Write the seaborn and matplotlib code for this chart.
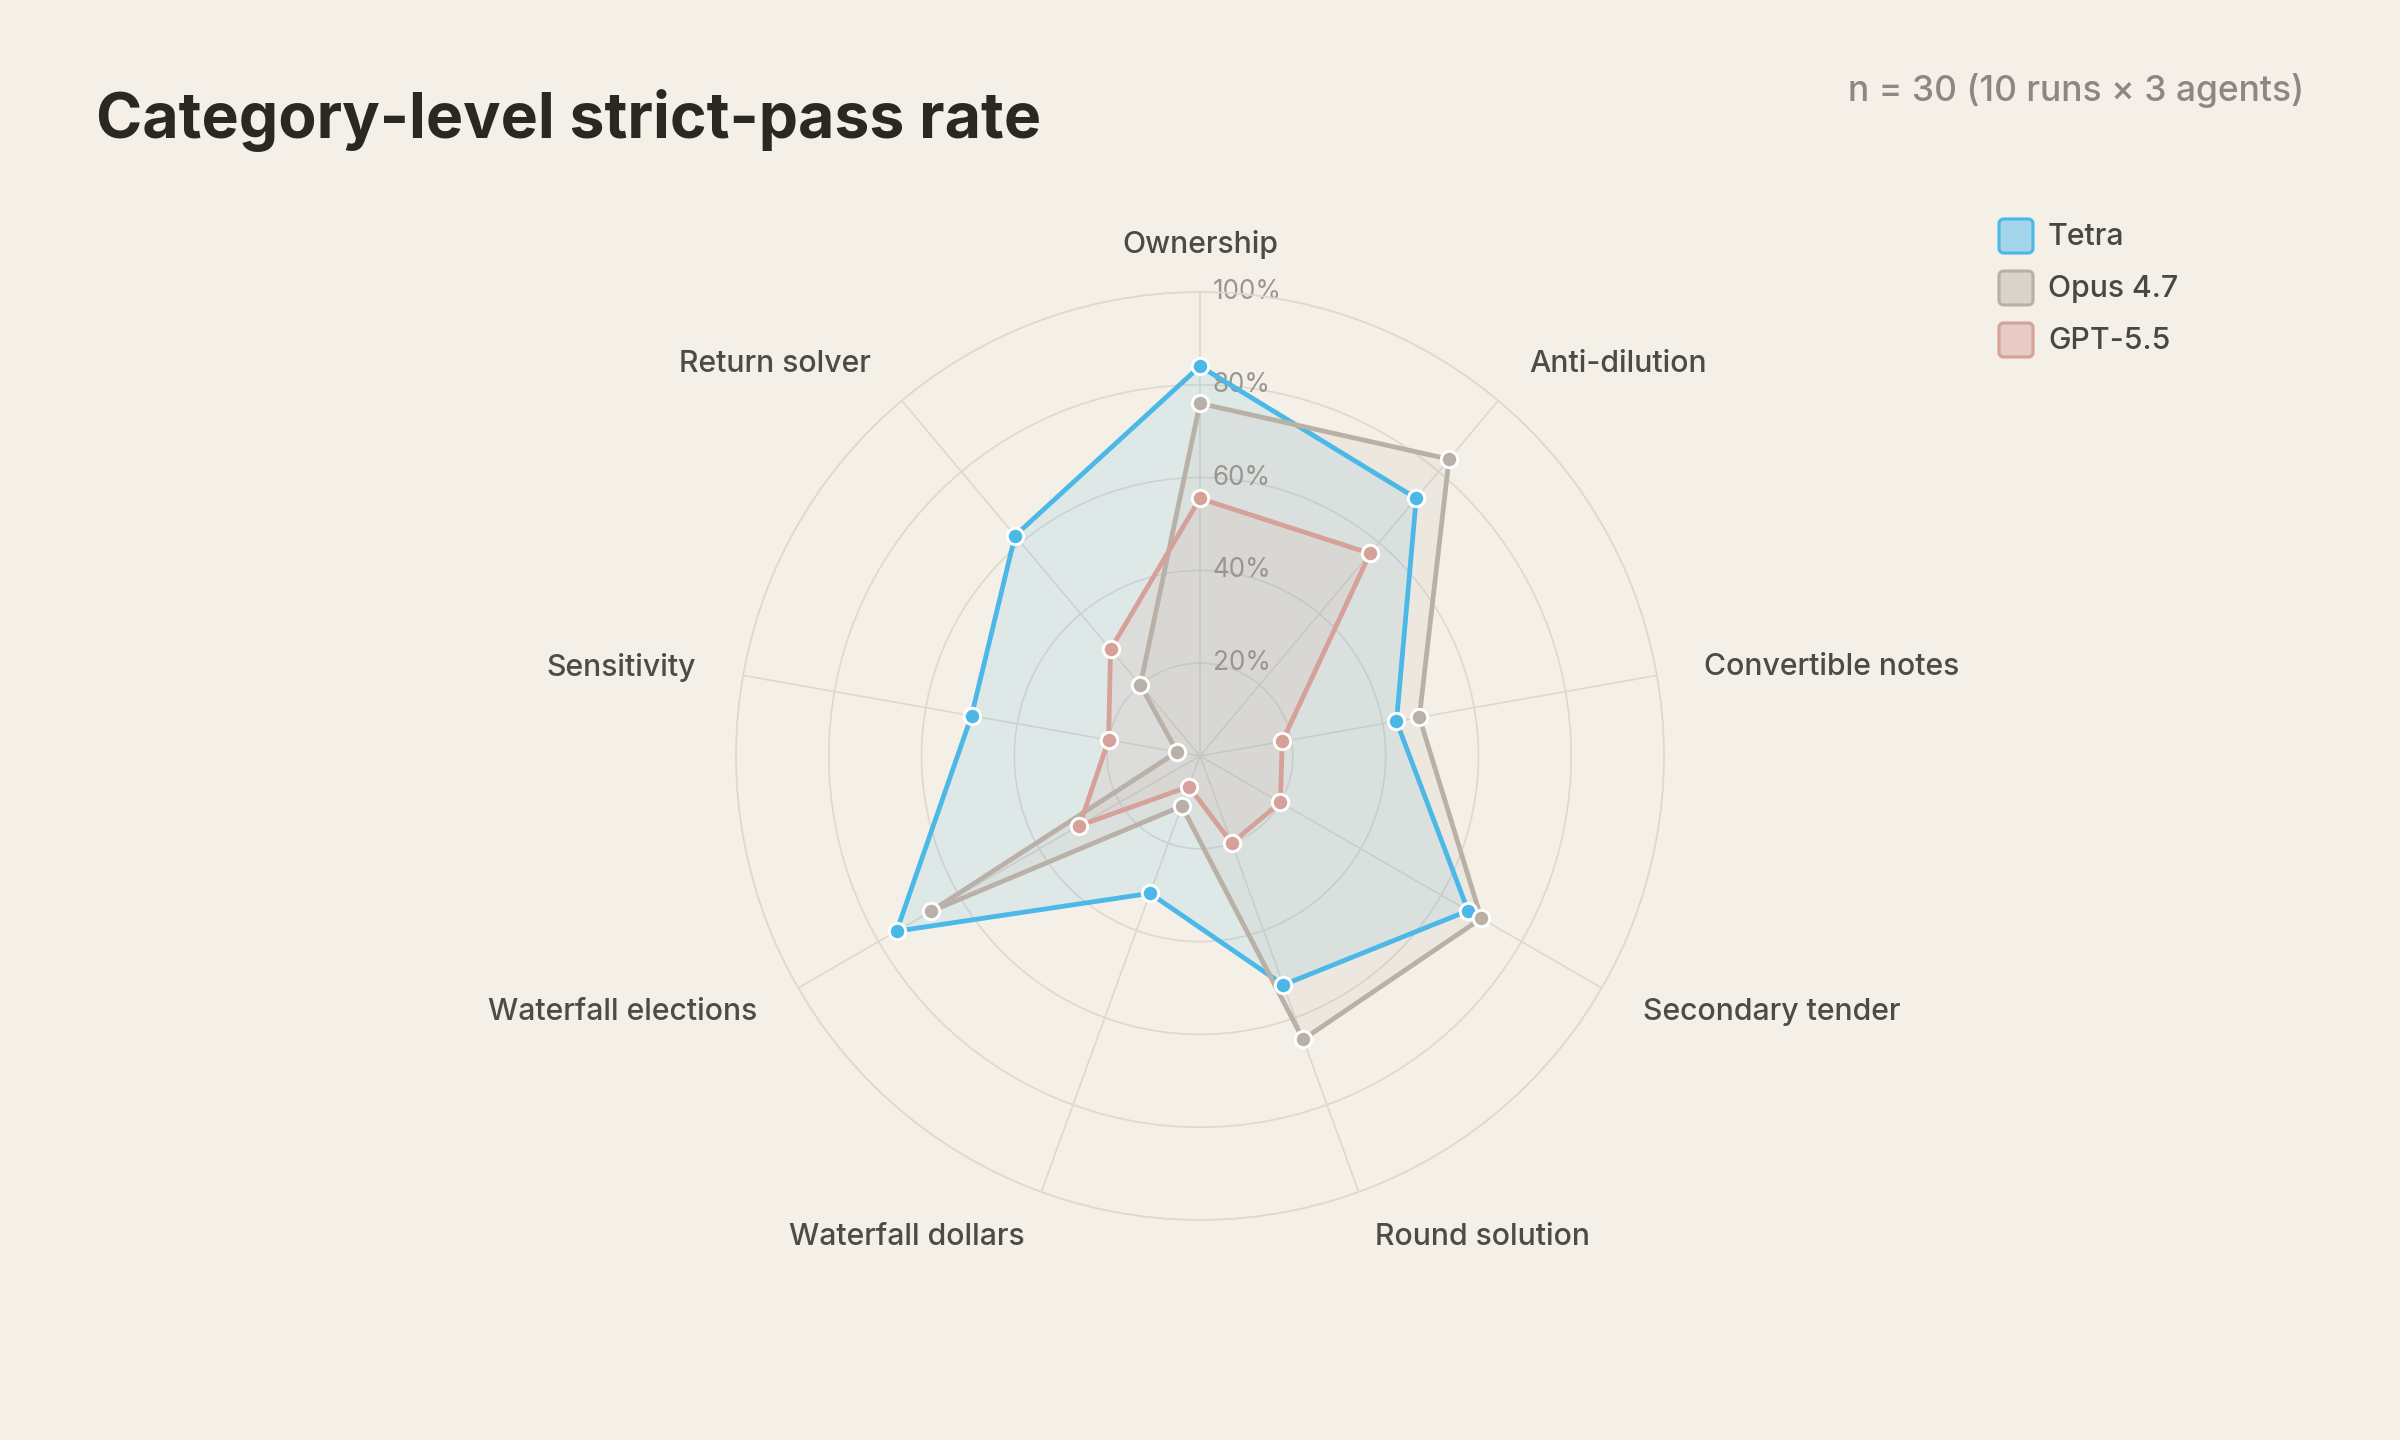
import numpy as np
import pandas as pd
import matplotlib
matplotlib.use("Agg")
import matplotlib.pyplot as plt
import matplotlib.patches as mpatches
from matplotlib.transforms import offset_copy, IdentityTransform
import seaborn as sns

# ---------------- data ----------------
categories = ["Ownership", "Anti-dilution", "Convertible notes", "Secondary tender",
              "Round solution", "Waterfall dollars", "Waterfall elections",
              "Sensitivity", "Return solver"]
tetra = [84, 72.5, 43, 66.7, 52.5, 31.5, 75.5, 50, 62]
opus = [76, 83.5, 48, 70, 65, 11.5, 67, 5, 20]
gpt = [55.5, 57, 18, 20, 20, 7, 30, 20, 30]
series_names = ["Tetra", "Opus 4.7", "GPT-5.5"]
ring_ticks = [20, 40, 60, 80, 100]
ring_labels = ["20%", "40%", "60%", "80%", "100%"]
title = "Category-level strict-pass rate"
subtitle = "n = 30 (10 runs × 3 agents)"

# ---------------- style ----------------
BG = "#F4F0E8"
GRID = "#DDD8D0"
line_colors = {"Tetra": "#4BB8E7", "Opus 4.7": "#B9B1A7", "GPT-5.5": "#D5A199"}
fill_alpha = {"Tetra": 0.13, "Opus 4.7": 0.13, "GPT-5.5": 0.14}
legend_fill = {"Tetra": "#A5D5EA", "Opus 4.7": "#D9D3CA", "GPT-5.5": "#E8CBC5"}

sns.set_theme(style="white")
plt.rcParams["font.family"] = ["Inter", "DejaVu Sans"]

n = len(categories)
theta = np.arange(n) * 2 * np.pi / n

rows = []
for name, vals in zip(series_names, [tetra, opus, gpt]):
    for i, (c, v) in enumerate(zip(categories, vals)):
        rows.append(dict(series=name, category=c, theta=theta[i], value=v))
df = pd.DataFrame(rows)

W, H = 2400, 1440
fig = plt.figure(figsize=(16, 9.6), dpi=150, facecolor=BG)
cx, cy, R = 1200, 756, 464
ax = fig.add_axes([(cx - R) / W, (H - cy - R) / H, 2 * R / W, 2 * R / H], projection="polar")
ax.set_facecolor(BG)
ax.set_theta_zero_location("N")
ax.set_theta_direction(-1)
ax.set_ylim(0, 100)
ax.set_yticks(ring_ticks)
ax.set_yticklabels([])
ax.set_xticks(theta)
ax.set_xticklabels([])
ax.grid(True, color=GRID, linewidth=0.8)
ax.spines["polar"].set_color(GRID)
ax.spines["polar"].set_linewidth(0.8)

for k, name in enumerate(series_names):
    sub = df[df["series"] == name]
    th = np.append(sub["theta"].values, sub["theta"].values[0] + 2 * np.pi)
    vv = np.append(sub["value"].values, sub["value"].values[0])
    c = line_colors[name]
    ax.fill(th, vv, color=c, alpha=fill_alpha[name], lw=0, zorder=2)
    sns.lineplot(x=th, y=vv, ax=ax, sort=False, estimator=None, color=c,
                 linewidth=2.3, zorder=3 + 0.1 * k, legend=False)
for k, name in enumerate(series_names):
    sub = df[df["series"] == name]
    sns.scatterplot(data=sub, x="theta", y="value", ax=ax, color=line_colors[name],
                    s=62, edgecolor="white", linewidth=1.4, zorder=5 + 0.1 * k, legend=False)
ax.set_xlabel("")
ax.set_ylabel("")

# ring labels
trans = offset_copy(ax.transData, fig=fig, x=13, y=0, units="dots")
for v, lab in zip(ring_ticks, ring_labels):
    ax.text(0, v, lab, transform=trans, ha="left", va="center", fontsize=12.5,
            color="#9A958E", zorder=2.5)

# category labels
for ang, cat in zip(theta, categories):
    s = np.sin(ang)
    ha = "left" if s > 0.05 else ("right" if s < -0.05 else "center")
    ax.text(ang, 110.3, cat, ha=ha, va="center", fontsize=14.5, fontweight="medium",
            color="#4E4A45")

fig.text(96 / W, 1 - 120 / H, title, ha="left", va="center", fontsize=30,
         fontweight="bold", color="#2B2824")
fig.text(2304 / W, 1 - 90 / H, subtitle, ha="right", va="center", fontsize=17,
         fontweight="medium", color="#8C8780")

# legend
for name, yc in zip(series_names, [236, 288, 340]):
    p = mpatches.FancyBboxPatch((1999, H - yc - 17), 34, 34,
                                boxstyle="round,pad=0,rounding_size=5",
                                fc=legend_fill[name], ec=line_colors[name], lw=1.5,
                                transform=IdentityTransform())
    fig.add_artist(p)
    fig.text(2048 / W, 1 - (yc + 1) / H, name, ha="left", va="center", fontsize=14.5,
             fontweight="medium", color="#4A4642")

fig.savefig("out.png", dpi=150, facecolor=BG)
